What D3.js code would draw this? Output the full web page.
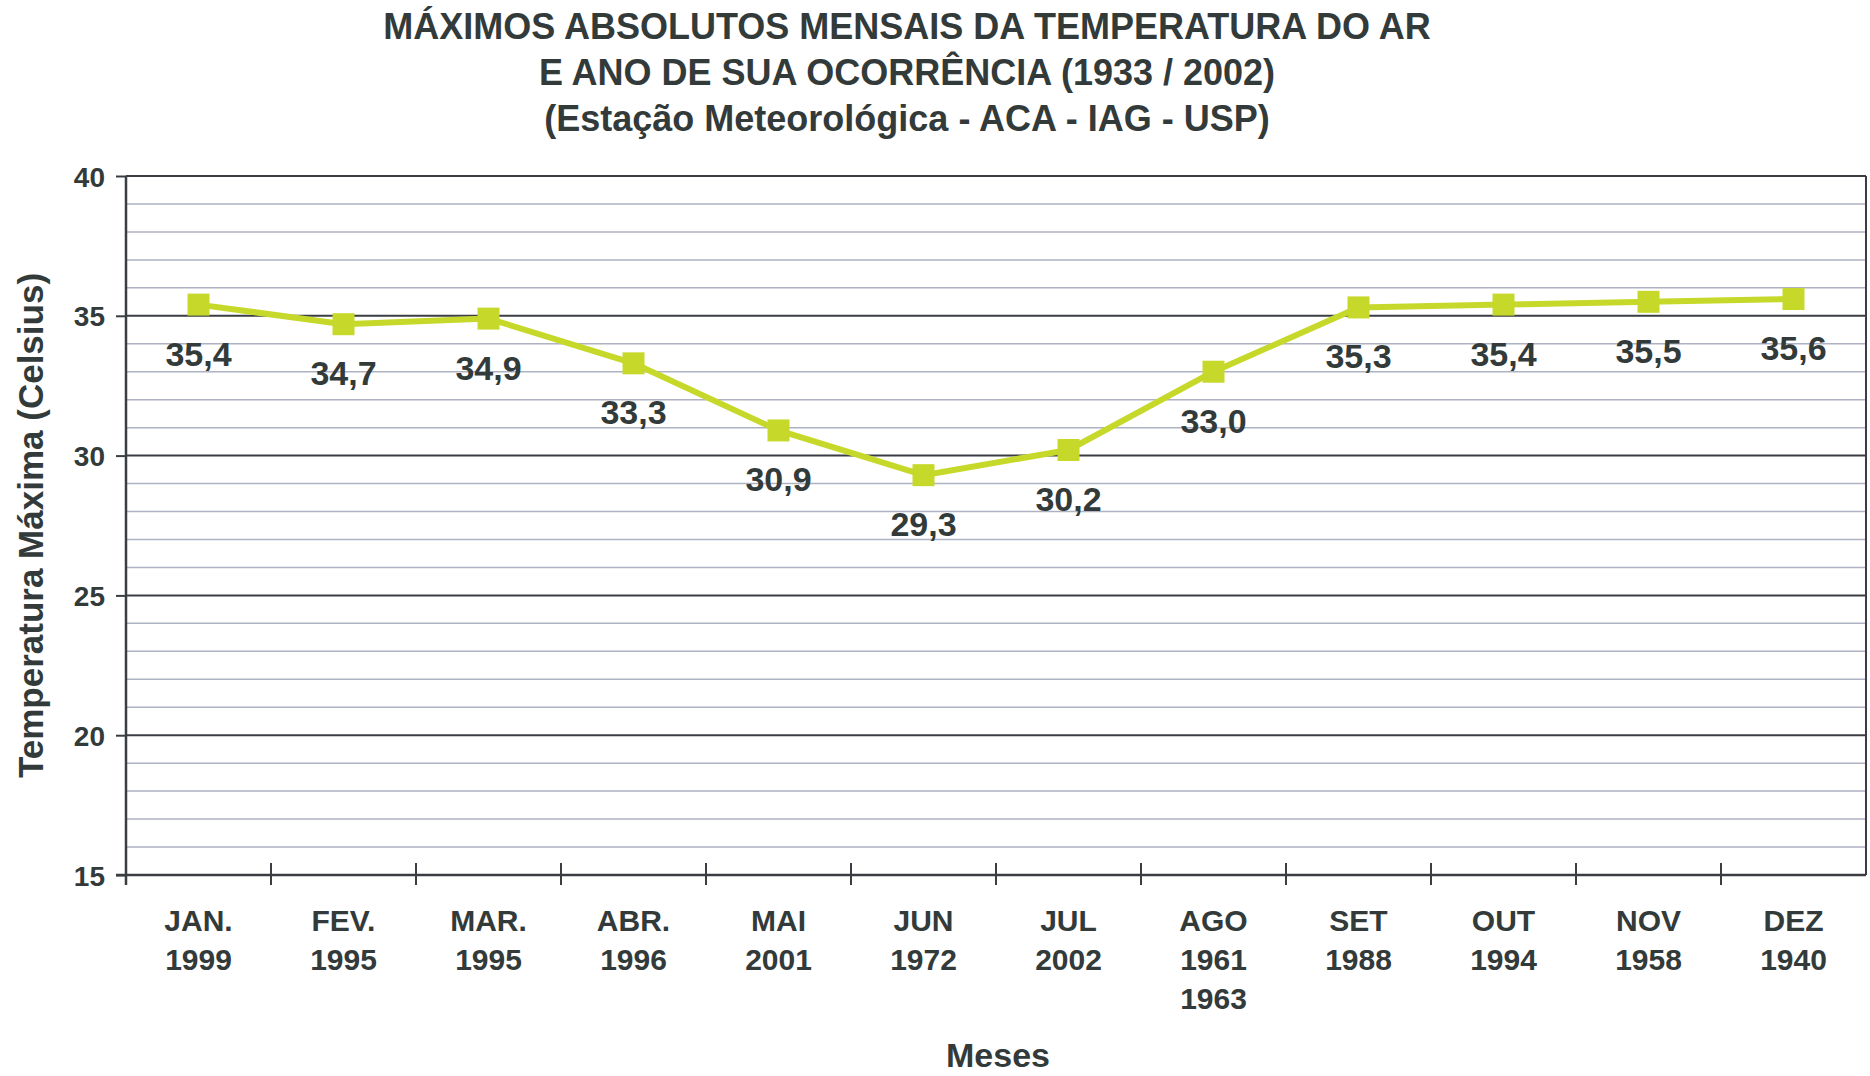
<!DOCTYPE html>
<html>
<head>
<meta charset="utf-8">
<script src="https://cdn.jsdelivr.net/npm/d3@7"></script>
<style>
    body { margin: 0; background: #fff; overflow: hidden; }
    svg { display: block; }
    svg text { font-family: "Liberation Sans", Arial, sans-serif; font-weight: bold; fill: #333a3a; }
</style>
</head>
<body>
<div class="linechart"></div>
<script>
// data
const months = ["JAN.", "FEV.", "MAR.", "ABR.", "MAI", "JUN", "JUL", "AGO", "SET", "OUT", "NOV", "DEZ"];
const years = [["1999"], ["1995"], ["1995"], ["1996"], ["2001"], ["1972"], ["2002"], ["1961", "1963"], ["1988"], ["1994"], ["1958"], ["1940"]];
const tempMax = [35.4, 34.7, 34.9, 33.3, 30.9, 29.3, 30.2, 33.0, 35.3, 35.4, 35.5, 35.6];
const yTicks = [15, 20, 25, 30, 35, 40];
const titleLines = [
    "MÁXIMOS ABSOLUTOS MENSAIS DA TEMPERATURA DO AR",
    "E ANO DE SUA OCORRÊNCIA (1933 / 2002)",
    "(Estação Meteorológica - ACA - IAG - USP)"
];

const W = 1870, H = 1076;
let margin = {top: 176, right: 4, bottom: 201, left: 126};
const width = W - margin.left - margin.right;
const height = H - margin.top - margin.bottom;

let svg = d3.select('.linechart')
            .append('svg')
            .attr('width', W)
            .attr('height', H);

// Title
svg.append("g").selectAll("text")
    .data(titleLines)
    .enter()
    .append("text")
    .attr("x", 907)
    .attr("y", (d, i) => 39 + i * 46)
    .attr("text-anchor", "middle")
    .style("font-size", "36px")
    .text(d => d);

let g = svg.append("g")
    .attr("transform", "translate(" + margin.left + "," + margin.top + ")");

let xScale = d3.scaleBand()
    .domain(months)
    .range([0, width])
    .padding(0);

let yScale = d3.scaleLinear()
    .domain([15, 40])
    .range([height, 0]);

// minor gridlines every 1 degree
g.append("g")
    .selectAll("line")
    .data(d3.range(16, 40).filter(v => v % 5 !== 0))
    .enter()
    .append("line")
    .attr("x1", 0)
    .attr("x2", width)
    .attr("y1", d => yScale(d))
    .attr("y2", d => yScale(d))
    .attr("stroke", "#aeb2c2")
    .attr("stroke-width", 1.5);

// major gridlines
g.append("g")
    .selectAll("line")
    .data(yTicks.slice(1))
    .enter()
    .append("line")
    .attr("x1", 0)
    .attr("x2", width)
    .attr("y1", d => yScale(d))
    .attr("y2", d => yScale(d))
    .attr("stroke", "#3a3d42")
    .attr("stroke-width", 2);

// right border
g.append("line")
    .attr("x1", width).attr("x2", width)
    .attr("y1", 0).attr("y2", height)
    .attr("stroke", "#3a3d42")
    .attr("stroke-width", 2);

// Y axis
let yAxis = g.append("g")
    .call(d3.axisLeft(yScale).tickValues(yTicks).tickSize(10).tickPadding(11).tickFormat(d3.format("d")));
yAxis.select(".domain").remove();
yAxis.selectAll("line").attr("stroke", "#3a3d42").attr("stroke-width", 2);
yAxis.selectAll("text").style("font-size", "28px").attr("fill", "#333a3a").attr("dy", "0.36em");
g.append("line")
    .attr("x1", 0).attr("x2", 0)
    .attr("y1", 0).attr("y2", height + 10)
    .attr("stroke", "#3a3d42")
    .attr("stroke-width", 2.5);

// X axis: ticks sit on band boundaries and cross the axis
let xAxis = g.append("g")
    .attr("transform", "translate(0," + height + ")");
xAxis.append("line")
    .attr("x1", -10).attr("x2", width)
    .attr("stroke", "#3a3d42")
    .attr("stroke-width", 2.5);
xAxis.selectAll(".tick")
    .data(months.slice(1))
    .enter()
    .append("line")
    .attr("class", "tick")
    .attr("x1", d => xScale(d))
    .attr("x2", d => xScale(d))
    .attr("y1", -12)
    .attr("y2", 10)
    .attr("stroke", "#3a3d42")
    .attr("stroke-width", 2);

let xLabels = xAxis.selectAll(".xlabel")
    .data(months)
    .enter()
    .append("text")
    .attr("class", "xlabel")
    .attr("text-anchor", "middle")
    .attr("x", d => xScale(d) + xScale.bandwidth() / 2)
    .attr("y", 56)
    .style("font-size", "30px");
xLabels.each(function(d, i) {
    let t = d3.select(this);
    let lines = [d].concat(years[i]);
    lines.forEach((s, k) => {
        t.append("tspan")
            .attr("x", xScale(d) + xScale.bandwidth() / 2)
            .attr("dy", k === 0 ? 0 : 39)
            .text(s);
    });
});

// axis titles
svg.append("text")
    .attr("transform", "translate(43," + (margin.top + height / 2) + ") rotate(-90)")
    .attr("text-anchor", "middle")
    .style("font-size", "35px")
    .text("Temperatura Máxima (Celsius)");

svg.append("text")
    .attr("x", margin.left + width / 2 + 2)
    .attr("y", 1067)
    .attr("text-anchor", "middle")
    .style("font-size", "34px")
    .text("Meses");

// the line
let cx = (d, i) => xScale(months[i]) + xScale.bandwidth() / 2;
g.append("path")
    .datum(tempMax)
    .attr("fill", "none")
    .attr("stroke", "#c6d92b")
    .attr("stroke-width", 6)
    .attr("stroke-linejoin", "round")
    .attr("d", d3.line()
        .x(cx)
        .y(d => yScale(d)));

// square markers
const size = 22;
g.selectAll(".dot")
    .data(tempMax)
    .enter()
    .append("rect")
    .attr("class", "dot")
    .attr("x", (d, i) => cx(d, i) - size / 2)
    .attr("y", d => yScale(d) - size / 2)
    .attr("width", size)
    .attr("height", size)
    .attr("fill", "#c6d92b");

// value labels below points
g.selectAll(".vlabel")
    .data(tempMax)
    .enter()
    .append("text")
    .attr("class", "vlabel")
    .attr("text-anchor", "middle")
    .attr("x", cx)
    .attr("y", d => yScale(d) + 61)
    .style("font-size", "34px")
    .text(d => d3.format(".1f")(d).replace(".", ","));
</script>
</body>
</html>
